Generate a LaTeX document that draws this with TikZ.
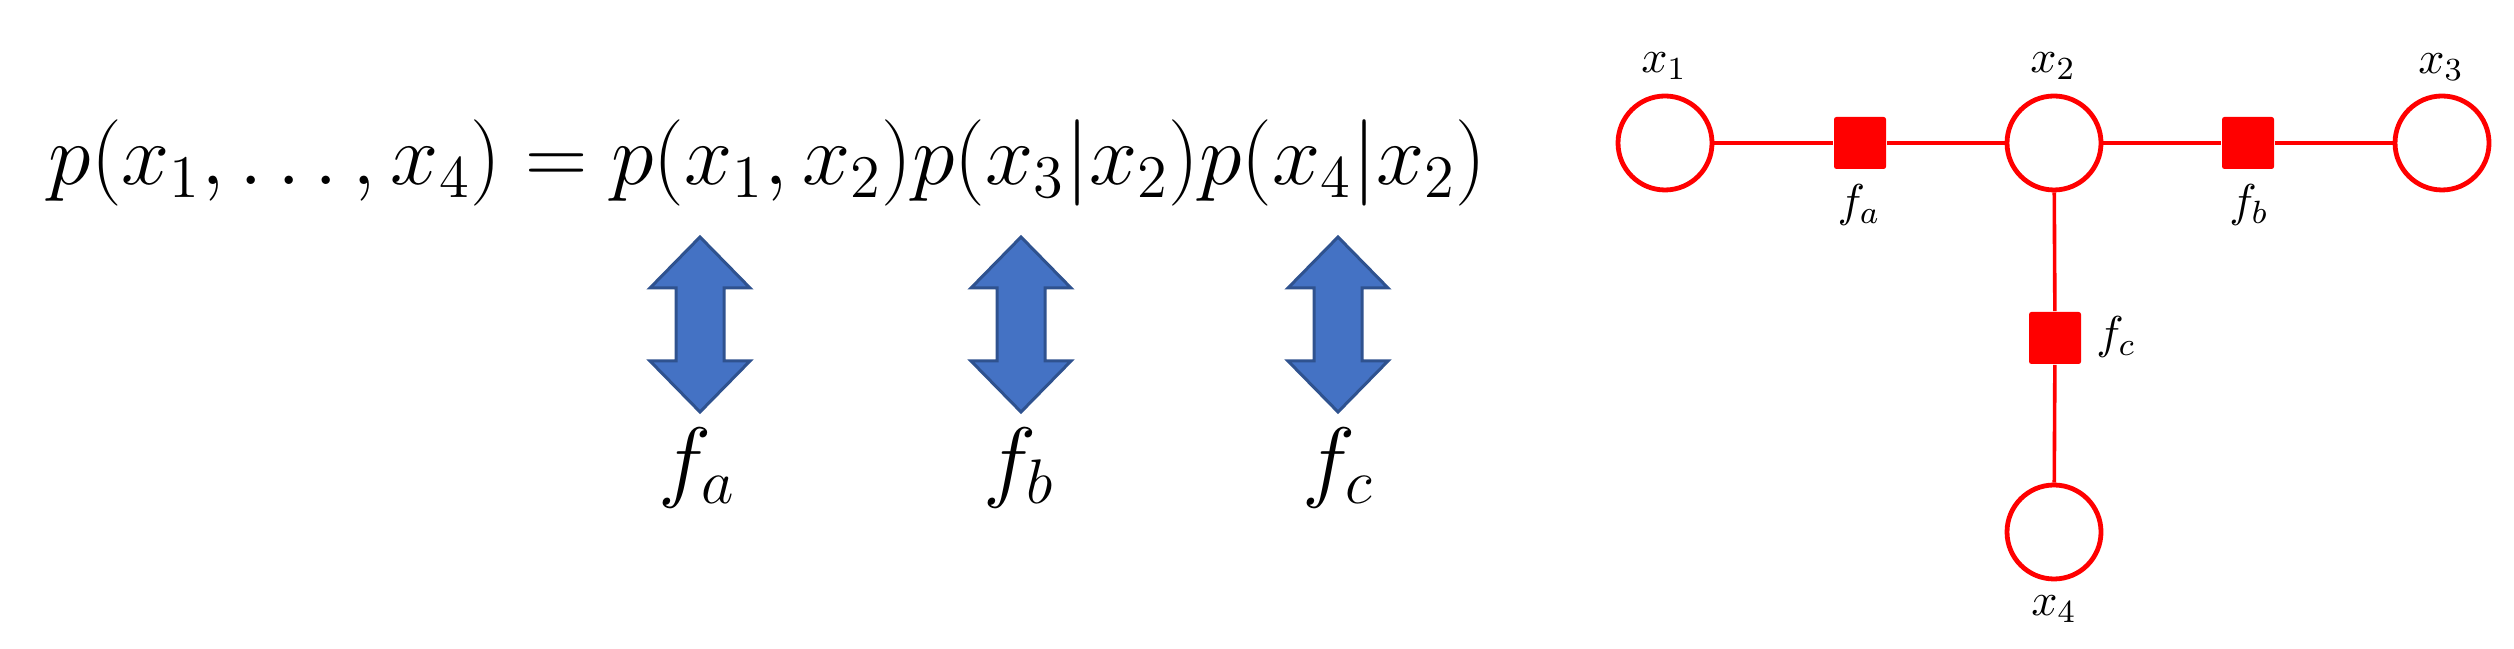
\documentclass[tikz,border=0pt]{standalone}
\usepackage{fix-cm}
\definecolor{arrowfill}{HTML}{4472C4}
\definecolor{arrowline}{HTML}{2F528F}
\definecolor{fgred}{HTML}{FF0000}
\begin{document}
\begin{tikzpicture}[x=0.25pt,y=-0.25pt,
  varnode/.style={circle,draw=fgred,line width=1.2pt,minimum size=23.5pt,inner sep=0pt,fill=white},
  facnode/.style={rectangle,fill=fgred,minimum size=13pt,inner sep=0pt,rounded corners=0.6pt},
  edge/.style={draw=fgred,line width=0.9pt},
  glabel/.style={inner sep=0pt,font=\fontsize{11.5}{13}\selectfont},
  bigmath/.style={inner sep=0pt,font=\fontsize{21.6}{26}\selectfont},
  dblarrow/.style={fill=arrowfill,draw=arrowline,line width=0.75pt,line join=miter}]
\useasboundingbox (0,0) rectangle (2514,649);
% equation
\node[bigmath,anchor=base west] (eq) at (48,185) {$p(x_1,\ldots,x_4)=p(x_1,x_2)p(x_3|x_2)p(x_4|x_2)$};
% double arrows
\foreach \cx in {700,1021,1338} {
  \draw[dblarrow] (\cx,237) -- (\cx+50,288) -- (\cx+24,288) -- (\cx+24,361) -- (\cx+50,361)
     -- (\cx,412) -- (\cx-50,361) -- (\cx-24,361) -- (\cx-24,288) -- (\cx-50,288) -- cycle;
}
\node[bigmath,font=\fontsize{22.5}{27}\selectfont] (la) at (697,468) {$f_a$};
\node[bigmath,font=\fontsize{22.5}{27}\selectfont] (lb) at (1019,468) {$f_b$};
\node[bigmath,font=\fontsize{22.5}{27}\selectfont] (lc) at (1338,468) {$f_c$};
% factor graph
\node[varnode] (x1) at (1665,143) {};
\node[varnode] (x2) at (2054,143) {};
\node[varnode] (x3) at (2442,143) {};
\node[varnode] (x4) at (2054,532) {};
\node[facnode] (fa) at (1860,143) {};
\node[facnode] (fb) at (2248,143) {};
\node[facnode] (fc) at (2055,338) {};
\draw[edge] (x1) -- (fa) -- (x2) -- (fb) -- (x3);
\draw[edge] (x2) -- (fc) -- (x4);
\node[glabel] (tx1) at (1664,66) {$x_1$};
\node[glabel] (tx2) at (2053,66) {$x_2$};
\node[glabel] (tx3) at (2441,67) {$x_3$};
\node[glabel] (tx4) at (2054,609) {$x_4$};
\node[glabel] (tfa) at (1859,205) {$f_a$};
\node[glabel] (tfb) at (2249,205) {$f_b$};
\node[glabel] (tfc) at (2116,337) {$f_c$};
\end{tikzpicture}
\end{document}
